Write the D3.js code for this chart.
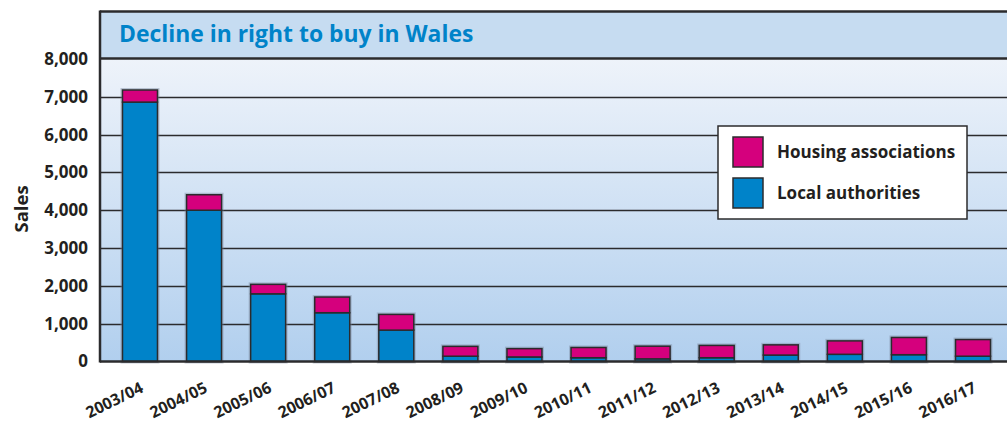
<!DOCTYPE html>
<html>
<head>
<meta charset="utf-8">
<script src="https://cdn.jsdelivr.net/npm/d3@7"></script>
<style>
  body { margin: 0; background: #fff; }
  text { font-family: "Open Sans", "DejaVu Sans", sans-serif; font-weight: bold; }
</style>
</head>
<body>
<div id="chart"></div>
<script>
// data
var years = ["2003/04","2004/05","2005/06","2006/07","2007/08","2008/09","2009/10",
             "2010/11","2011/12","2012/13","2013/14","2014/15","2015/16","2016/17"];
var localAuthorities    = [6860, 4000, 1790, 1290, 830, 140, 120, 100, 70, 100, 170, 190, 180, 140];
var housingAssociations = [320, 410, 250, 415, 415, 260, 220, 270, 335, 325, 270, 355, 455, 440];
var yTicks = [0, 1000, 2000, 3000, 4000, 5000, 6000, 7000, 8000];
var seriesNames = ["Housing associations", "Local authorities"];
var title = "Decline in right to buy in Wales";

var W = 1007, H = 424;
var plotLeft = 100, plotRight = 1013, plotTop = 59, plotBottom = 361.5, frameTop = 11.5;
var darkLine = "#2b2b2d";
var colLA = "#0083c9", colHA = "#d5007d";

var svg = d3.select("#chart").append("svg")
    .attr("width", W).attr("height", H);

var defs = svg.append("defs");
var grad = defs.append("linearGradient").attr("id", "bg")
    .attr("x1", 0).attr("y1", 0).attr("x2", 0).attr("y2", 1);
grad.append("stop").attr("offset", "0%").attr("stop-color", "#eef3fa");
grad.append("stop").attr("offset", "100%").attr("stop-color", "#b1cfee");

// title band + plot background
svg.append("rect").attr("x", plotLeft).attr("y", frameTop).attr("width", W - plotLeft)
    .attr("height", plotTop - frameTop).attr("fill", "#c6dcf1");
svg.append("rect").attr("x", plotLeft).attr("y", plotTop).attr("width", W - plotLeft)
    .attr("height", plotBottom - plotTop).attr("fill", "url(#bg)");

svg.append("text").attr("x", 119).attr("y", 42)
    .attr("fill", "#0083c9").style("font-size", "22.9px")
    .text(title);

var x = d3.scaleBand().domain(years).range([plotLeft, plotRight])
    .paddingInner(0.454).paddingOuter(0.351);
var y = d3.scaleLinear().domain([0, 8000]).range([plotBottom, plotTop]);

// gridlines
svg.append("g").selectAll("line")
  .data(yTicks.filter(function(d){ return d > 0 && d < 8000; }))
  .enter().append("line")
    .attr("x1", plotLeft).attr("x2", W)
    .attr("y1", function(d){ return Math.round(y(d)) + 0.5; })
    .attr("y2", function(d){ return Math.round(y(d)) + 0.5; })
    .attr("stroke", darkLine).attr("stroke-width", 1.3);

// y axis labels
var yAxis = svg.append("g").attr("transform", "translate(" + plotLeft + ",0)")
    .call(d3.axisLeft(y).tickValues(yTicks).tickSize(0).tickPadding(12).tickFormat(d3.format(",")));
yAxis.select(".domain").remove();
yAxis.selectAll("text").style("font-size", "17px").attr("fill", "#231f20")
    .style("font-family", "'Open Sans', sans-serif").style("font-weight", "bold");

svg.append("text")
    .attr("transform", "translate(28,209) rotate(-90)")
    .attr("text-anchor", "middle").attr("fill", "#231f20")
    .style("font-size", "18.5px").text("Sales");

// stacked bars
var rows = years.map(function(yr, i) {
  return { year: yr, la: localAuthorities[i], ha: housingAssociations[i] };
});
var bars = svg.append("g").selectAll("g").data(rows).enter().append("g");

// soft halo behind each bar
bars.append("rect")
    .attr("x", function(d){ return x(d.year); })
    .attr("y", function(d){ return y(d.la + d.ha); })
    .attr("width", x.bandwidth())
    .attr("height", function(d){ return plotBottom - y(d.la + d.ha); })
    .attr("fill", "none").attr("stroke", "#7d8aa0").attr("stroke-opacity", 0.45).attr("stroke-width", 4);

bars.append("rect")
    .attr("x", function(d){ return x(d.year); })
    .attr("y", function(d){ return y(d.la); })
    .attr("width", x.bandwidth())
    .attr("height", function(d){ return plotBottom - y(d.la); })
    .attr("fill", colLA).attr("stroke", darkLine).attr("stroke-width", 1.5);

bars.append("rect")
    .attr("x", function(d){ return x(d.year); })
    .attr("y", function(d){ return y(d.la + d.ha); })
    .attr("width", x.bandwidth())
    .attr("height", function(d){ return y(d.la) - y(d.la + d.ha); })
    .attr("fill", colHA).attr("stroke", darkLine).attr("stroke-width", 1.5);

// x axis labels
var xAxis = svg.append("g").attr("transform", "translate(0," + plotBottom + ")")
    .call(d3.axisBottom(x).tickSize(0));
xAxis.select(".domain").remove();
xAxis.selectAll("text")
    .attr("text-anchor", "end")
    .attr("fill", "#231f20")
    .style("font-size", "16px")
    .style("font-family", "'Open Sans', sans-serif")
    .style("font-weight", "bold")
    .attr("transform", "translate(2,25) rotate(-26)")
    .attr("dy", "0.35em").attr("y", 0);

// frame lines
svg.append("line").attr("x1", plotLeft).attr("x2", W).attr("y1", frameTop).attr("y2", frameTop)
    .attr("stroke", darkLine).attr("stroke-width", 2.5);
svg.append("line").attr("x1", plotLeft).attr("x2", W).attr("y1", plotTop - 0.5).attr("y2", plotTop - 0.5)
    .attr("stroke", darkLine).attr("stroke-width", 2.5);
svg.append("line").attr("x1", plotLeft).attr("x2", plotLeft).attr("y1", frameTop - 1).attr("y2", plotBottom + 1)
    .attr("stroke", darkLine).attr("stroke-width", 2.5);
svg.append("line").attr("x1", plotLeft).attr("x2", W).attr("y1", plotBottom).attr("y2", plotBottom)
    .attr("stroke", darkLine).attr("stroke-width", 2.5);

// legend
var legend = svg.append("g").attr("transform", "translate(718,126)");
legend.append("rect").attr("width", 249).attr("height", 93)
    .attr("fill", "#fff").attr("stroke", darkLine).attr("stroke-width", 1.5);
var legCols = [colHA, colLA];
var item = legend.selectAll(".item").data(seriesNames).enter().append("g")
    .attr("transform", function(d, i){ return "translate(15," + (11 + i * 41) + ")"; });
item.append("rect").attr("width", 30).attr("height", 30)
    .attr("fill", function(d, i){ return legCols[i]; })
    .attr("stroke", darkLine).attr("stroke-width", 1.5);
item.append("text").attr("x", 44).attr("y", 15).attr("dy", "0.35em")
    .attr("fill", "#231f20").style("font-size", "17px")
    .text(function(d){ return d; });
</script>
</body>
</html>
